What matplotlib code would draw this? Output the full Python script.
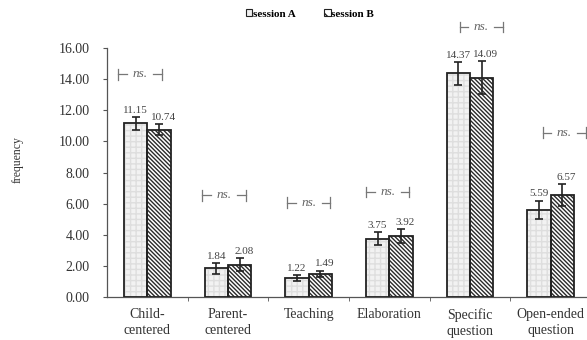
import matplotlib
matplotlib.use("Agg")
import matplotlib.pyplot as plt
from matplotlib.patches import Patch
import numpy as np

categories = ["Child-\ncentered", "Parent-\ncentered", "Teaching", "Elaboration",
              "Specific\nquestion", "Open-ended\nquestion"]
session_a = [11.15, 1.84, 1.22, 3.75, 14.37, 5.59]
session_b = [10.74, 2.08, 1.49, 3.92, 14.09, 6.57]
err_a = [0.40, 0.33, 0.20, 0.40, 0.72, 0.60]
err_b = [0.35, 0.40, 0.20, 0.45, 1.05, 0.70]
ns_height = [14.3, 6.55, 6.05, 6.75, 17.35, 10.55]
ns_shift = [-0.09, -0.05, 0.0, -0.02, 0.14, 0.17]
y_ticks = [0, 2, 4, 6, 8, 10, 12, 14, 16]

plt.rcParams['font.family'] = ['Liberation Serif', 'DejaVu Serif']
plt.rcParams['hatch.linewidth'] = 1.0

fig = plt.figure(figsize=(5.87, 3.40), dpi=100)
ax = fig.add_axes([107 / 587, 1 - 297 / 340, 484 / 587, 249 / 340])

x = np.arange(len(categories))
w = 0.29
axis_col = '#555555'
stripes = '\\' * 8

# session A: pale stippled fill, session B: dense diagonal stripes
ax.bar(x - w / 2, session_a, w, color='#f2f2f2', edgecolor='#dedede',
       hatch='+++', linewidth=0, zorder=2)
ax.bar(x - w / 2, session_a, w, fill=False, edgecolor='#222222',
       linewidth=1.3, zorder=3)
ax.bar(x + w / 2, session_b, w, color='white', edgecolor='#2a2a2a',
       hatch=stripes, linewidth=0, zorder=2)
ax.bar(x + w / 2, session_b, w, fill=False, edgecolor='#222222',
       linewidth=1.3, zorder=3)

ax.errorbar(x - w / 2, session_a, yerr=err_a, fmt='none', ecolor='#222222',
            elinewidth=1.2, capsize=3, capthick=1.2, zorder=4)
ax.errorbar(x + w / 2, session_b, yerr=err_b, fmt='none', ecolor='#222222',
            elinewidth=1.2, capsize=3, capthick=1.2, zorder=4)

for xi, v, e in zip(x - w / 2, session_a, err_a):
    ax.text(xi, v + e + 0.15, f"{v:.2f}", ha='center', va='bottom',
            fontsize=8, color='#444444')
for xi, v, e in zip(x + w / 2, session_b, err_b):
    ax.text(xi + 0.05, v + e + 0.15, f"{v:.2f}", ha='center', va='bottom',
            fontsize=8, color='#444444')

# non-significance brackets
half = 0.27
for xi, h, s in zip(x, ns_height, ns_shift):
    c = xi + s
    ax.plot([c - half, c - half], [h - 0.35, h + 0.35], color='#777777', lw=0.9, clip_on=False)
    ax.plot([c - half, c - 0.16], [h, h], color='#777777', lw=0.9, clip_on=False)
    ax.plot([c + 0.16, c + half], [h, h], color='#777777', lw=0.9, clip_on=False)
    ax.plot([c + half, c + half], [h - 0.35, h + 0.35], color='#777777', lw=0.9, clip_on=False)
    ax.text(c, h, "ns.", ha='center', va='center', fontsize=9.5,
            style='italic', color='#666666', clip_on=False)

ax.set_xlim(-0.5, len(categories) - 0.5)
ax.set_ylim(0, 16)
ax.set_yticks(y_ticks)
ax.set_yticklabels([f"{t:.2f}" for t in y_ticks], fontsize=10, color='#333333')
ax.set_xticks(x)
ax.set_xticklabels(categories, fontsize=10, color='#333333', linespacing=1.3)
ax.set_xticks(x[:-1] + 0.5, minor=True)
ax.tick_params(axis='x', which='major', length=0, pad=8)
ax.tick_params(axis='x', which='minor', length=3, color=axis_col, direction='out')
ax.tick_params(axis='y', length=3, color=axis_col, direction='out', pad=9.5)
for side in ('top', 'right'):
    ax.spines[side].set_visible(False)
for side in ('left', 'bottom'):
    ax.spines[side].set_color(axis_col)
    ax.spines[side].set_linewidth(0.9)

fig.text(18 / 587, 1 - 160 / 340, "frequency", rotation=90, ha='center',
         va='center', fontsize=8.5, color='#333333')

handles = [Patch(facecolor='#f0f0f0', edgecolor='#222222', linewidth=0.8),
           Patch(facecolor='white', edgecolor='#222222', hatch='\\\\\\', linewidth=0.8)]
fig.legend(handles, ["session A", "session B"], loc='center',
           bbox_to_anchor=(310 / 587, 1 - 14 / 340), ncol=2, frameon=False,
           handlelength=0.55, handleheight=0.55, handletextpad=0.05,
           columnspacing=2.6, prop={'weight': 'bold', 'size': 8})

fig.savefig("out.png", dpi=100)
